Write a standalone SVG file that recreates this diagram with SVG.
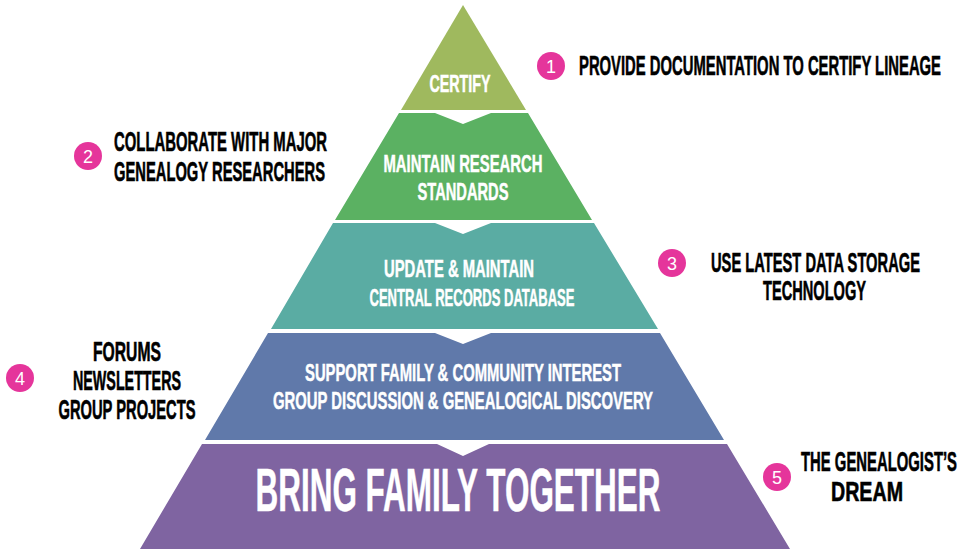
<svg xmlns="http://www.w3.org/2000/svg" width="964" height="553" viewBox="0 0 964 553">
<style>
.w{fill:#fff;stroke:#fff;stroke-width:0.5;font-family:"Liberation Sans Narrow","Liberation Sans",Arial,sans-serif;font-weight:bold;text-anchor:middle}
.b{fill:#000;stroke:#000;stroke-width:0.6;font-family:"Liberation Sans Narrow","Liberation Sans",Arial,sans-serif;font-weight:bold}
.n{fill:#fff;font-family:"Liberation Sans",Arial,sans-serif;font-size:18px;text-anchor:middle}
.c{fill:#e5359b}
</style>
<rect width="964" height="553" fill="#fff"/>
<g id="layer1">
<polygon points="463,5 526,110 401,110" fill="#9fb95e"/>
<text class="w" x="460" y="92" font-size="23" textLength="61" lengthAdjust="spacingAndGlyphs">CERTIFY</text>
</g>
<g id="layer2">
<polygon points="399,113 435,113 463,124 491,113 528,113 592,220 335,220" fill="#5bb162"/>
<text class="w" x="463" y="172" font-size="24" textLength="159" lengthAdjust="spacingAndGlyphs">MAINTAIN RESEARCH</text>
<text class="w" x="463" y="200" font-size="24" textLength="91" lengthAdjust="spacingAndGlyphs">STANDARDS</text>
</g>
<g id="layer3">
<polygon points="333,223 435,223 463,234 491,223 594,223 658,329 271,329" fill="#5aaca3"/>
<text class="w" x="459" y="277" font-size="24" textLength="150" lengthAdjust="spacingAndGlyphs">UPDATE &amp; MAINTAIN</text>
<text class="w" x="472" y="306" font-size="24" textLength="205" lengthAdjust="spacingAndGlyphs">CENTRAL RECORDS DATABASE</text>
</g>
<g id="layer4">
<polygon points="268,333 435,333 463,344 491,333 660,333 724,440 205,440" fill="#6079aa"/>
<text class="w" x="463" y="381" font-size="24" textLength="316" lengthAdjust="spacingAndGlyphs">SUPPORT FAMILY &amp; COMMUNITY INTEREST</text>
<text class="w" x="463" y="409" font-size="24" textLength="380" lengthAdjust="spacingAndGlyphs">GROUP DISCUSSION &amp; GENEALOGICAL DISCOVERY</text>
</g>
<g id="layer5">
<polygon points="202,444 437,444 463,456 489,444 727,444 790,549 140,549" fill="#7f64a1"/>
<text class="w" x="458" y="511" font-size="61" textLength="405" lengthAdjust="spacingAndGlyphs">BRING FAMILY TOGETHER</text>
</g>
<g id="note1">
<circle class="c" cx="551" cy="66" r="14"/>
<text class="n" x="551" y="73">1</text>
<text class="b" x="579" y="75" font-size="27" textLength="362" lengthAdjust="spacingAndGlyphs">PROVIDE DOCUMENTATION TO CERTIFY LINEAGE</text>
</g>
<g id="note2">
<circle class="c" cx="88" cy="156" r="14"/>
<text class="n" x="88" y="163">2</text>
<text class="b" x="114" y="151" font-size="27" textLength="213" lengthAdjust="spacingAndGlyphs">COLLABORATE WITH MAJOR</text>
<text class="b" x="114" y="181" font-size="27" textLength="211" lengthAdjust="spacingAndGlyphs">GENEALOGY RESEARCHERS</text>
</g>
<g id="note3">
<circle class="c" cx="672" cy="263" r="14"/>
<text class="n" x="672" y="270">3</text>
<text class="b" x="711" y="272" font-size="27" textLength="209" lengthAdjust="spacingAndGlyphs">USE LATEST DATA STORAGE</text>
<text class="b" x="763" y="300" font-size="27" textLength="103" lengthAdjust="spacingAndGlyphs">TECHNOLOGY</text>
</g>
<g id="note4">
<circle class="c" cx="20" cy="378" r="14"/>
<text class="n" x="20" y="385">4</text>
<text class="b" x="127" y="361" font-size="27" text-anchor="middle" textLength="68" lengthAdjust="spacingAndGlyphs">FORUMS</text>
<text class="b" x="127" y="390" font-size="27" text-anchor="middle" textLength="108" lengthAdjust="spacingAndGlyphs">NEWSLETTERS</text>
<text class="b" x="127" y="419" font-size="27" text-anchor="middle" textLength="137" lengthAdjust="spacingAndGlyphs">GROUP PROJECTS</text>
</g>
<g id="note5">
<circle class="c" cx="777" cy="477" r="14"/>
<text class="n" x="777" y="484">5</text>
<text class="b" x="801" y="471" font-size="27" textLength="156" lengthAdjust="spacingAndGlyphs">THE GENEALOGIST’S</text>
<text class="b" x="867" y="501" font-size="27" text-anchor="middle" textLength="72" lengthAdjust="spacingAndGlyphs">DREAM</text>
</g>
<g id="connectors"></g>
</svg>
